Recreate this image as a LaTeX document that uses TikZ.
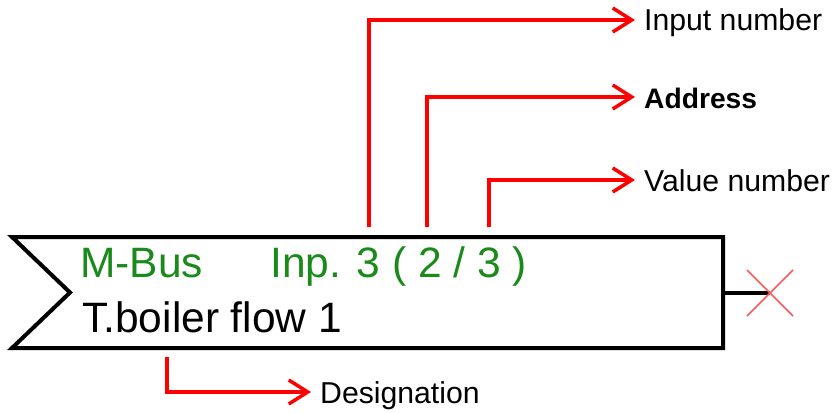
\documentclass[tikz,border=0pt]{standalone}
\usepackage{fontspec}
\setmainfont{Liberation Sans}
\usetikzlibrary{arrows.meta}
\definecolor{mgreen}{RGB}{26,138,26}
\definecolor{mred}{RGB}{255,0,0}
\definecolor{xred}{RGB}{255,90,90}
\tikzset{
  boxline/.style={draw=black, line width=4pt, line join=miter},
  callout/.style={draw=mred, line width=3.5pt, -{Straight Barb[length=19pt,width=24pt]}, shorten >=9pt},
  lbl/.style={anchor=west, inner sep=0pt, text height=22pt, text depth=0pt, font=\fontsize{30.2}{36}\selectfont},
  boldlbl/.style={lbl, font=\fontsize{28.2}{34}\selectfont\bfseries},
  big/.style={anchor=base west, inner sep=0pt, font=\fontsize{42.5}{50}\selectfont},
}
\begin{document}
\begin{tikzpicture}[x=1pt,y=-1pt]
\useasboundingbox (0,0) rectangle (834,412);
% block
\draw[boxline] (12,237) -- (723,237) -- (723,348) -- (12,348) -- (70,292.5) -- cycle;
\coordinate (port) at (723,293);
\coordinate (xc) at (770,293);
\draw[line width=4pt] (port) -- (xc);
\draw[xred, line width=1.5pt] ([shift={(-23,-23)}]xc) -- ([shift={(23,23)}]xc);
\draw[xred, line width=1.5pt] ([shift={(-23,23)}]xc) -- ([shift={(23,-23)}]xc);
% texts in block
\node[big, text=mgreen] (bus) at (80,277) {M-Bus};
\node[big, text=mgreen] (inp) at (270,277) {Inp. 3 ( 2 / 3 )};
\node[big] (desig) at (82,332) {T.boiler flow 1};
% labels
\node[lbl] (l1) at (644,20) {Input number};
\node[boldlbl] (l2) at (644,97) {Address};
\node[lbl] (l3) at (644,180) {Value number};
\node[lbl] (l4) at (320,392) {Designation};
% free ends
\coordinate (c1) at (369,227);
\coordinate (c2) at (427,227);
\coordinate (c3) at (489,227);
\coordinate (c4) at (167,357);
\draw[callout] (c1) |- (l1.west);
\draw[callout] (c2) |- (l2.west);
\draw[callout] (c3) |- (l3.west);
\draw[callout] (c4) |- (l4.west);
\end{tikzpicture}
\end{document}
